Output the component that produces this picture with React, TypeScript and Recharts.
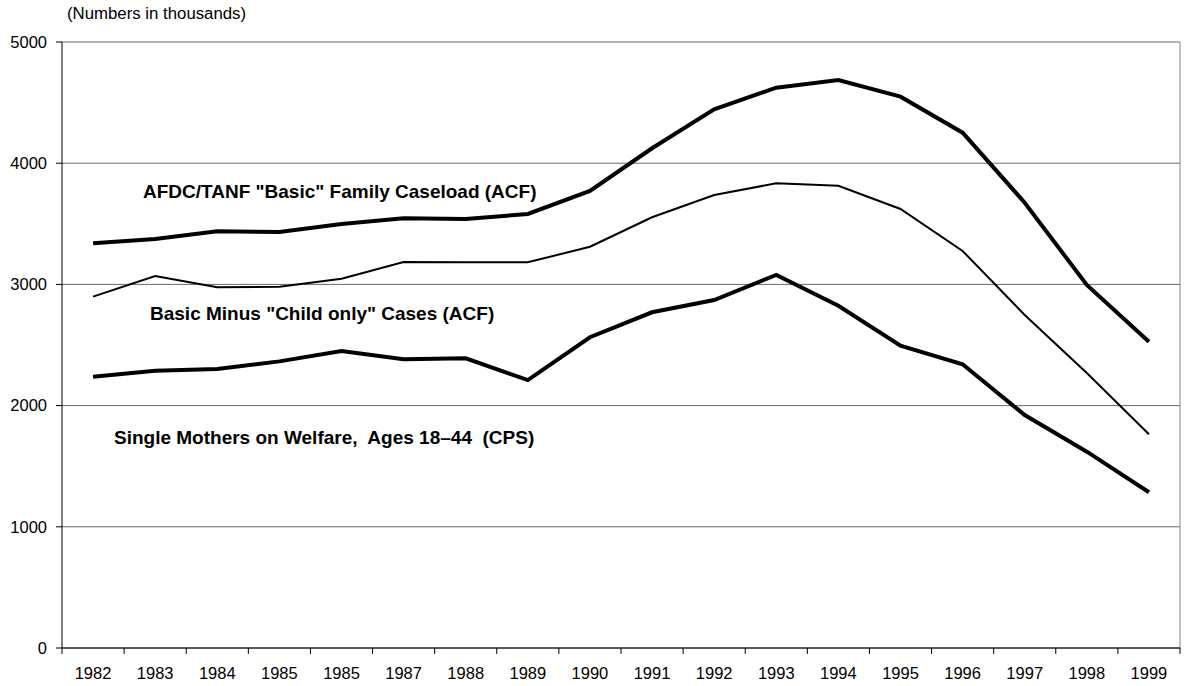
import { LineChart, Line, XAxis, YAxis, CartesianGrid, ReferenceLine } from "recharts";

// x categories (the source repeats "1985")
const years = [
  "1982", "1983", "1984", "1985", "1985", "1987", "1988", "1989", "1990",
  "1991", "1992", "1993", "1994", "1995", "1996", "1997", "1998", "1999"
];

// numbers in thousands
const afdcBasic = [
  3339, 3375, 3438, 3432, 3498, 3545, 3540, 3581, 3771,
  4123, 4445, 4623, 4686, 4549, 4252, 3674, 2995, 2527
];
const basicMinusChildOnly = [
  2899, 3069, 2976, 2981, 3047, 3185, 3182, 3182, 3311,
  3554, 3738, 3834, 3814, 3622, 3276, 2748, 2269, 1763
];
const singleMothers = [
  2238, 2288, 2302, 2365, 2450, 2382, 2390, 2211, 2564,
  2770, 2871, 3078, 2824, 2494, 2341, 1922, 1620, 1285
];

const yTicks = [0, 1000, 2000, 3000, 4000, 5000];

const data = years.map((year, i) => ({
  idx: i,
  year,
  afdc: afdcBasic[i],
  basicMinus: basicMinusChildOnly[i],
  single: singleMothers[i]
}));

// labels sit on the whole numbers, tick marks on the halves between them
const xTicks = years.flatMap((_, i) => [i - 0.5, i]).concat(years.length - 0.5);

const FONT = "'Liberation Sans', Arial, sans-serif";

const YearTick = ({ x, y, payload }: any) => {
  const v = payload.value;
  if (Number.isInteger(v)) {
    return (
      <text x={x} y={y + 31} textAnchor="middle" fontSize={16.5} fontFamily={FONT} fill="#000">
        {years[v]}
      </text>
    );
  }
  return <line x1={x} x2={x} y1={y} y2={y + 6} stroke="#000" strokeWidth={1} />;
};

const noteStyle: React.CSSProperties = {
  position: "absolute",
  fontFamily: FONT,
  fontWeight: "bold",
  fontSize: 19,
  lineHeight: "19px",
  whiteSpace: "pre",
  color: "#000"
};

export default function App() {
  return (
    <div style={{ position: "relative", width: 1184, height: 686, background: "#fff" }}>
      <style>{`body{margin:0}`}</style>
      <div
        style={{
          position: "absolute",
          left: 67,
          top: 6,
          fontFamily: FONT,
          fontSize: 16.8,
          lineHeight: "16.8px",
          whiteSpace: "pre"
        }}
      >
        (Numbers in thousands)
      </div>

      <LineChart
        width={1184}
        height={686}
        data={data}
        margin={{ top: 42, right: 4, left: 0, bottom: 0 }}
      >
        <CartesianGrid vertical={false} stroke="#6a6a6a" strokeWidth={1} />
        <XAxis
          dataKey="idx"
          type="number"
          domain={[-0.5, years.length - 0.5]}
          ticks={xTicks}
          interval={0}
          tick={<YearTick />}
          tickLine={false}
          tickSize={0}
          tickMargin={0}
          height={38}
          axisLine={{ stroke: "#000", strokeWidth: 1 }}
        />
        <YAxis
          type="number"
          domain={[0, 5000]}
          ticks={yTicks}
          interval={0}
          width={62}
          tickSize={6}
          tickMargin={9}
          tickLine={{ stroke: "#000" }}
          axisLine={{ stroke: "#000", strokeWidth: 1 }}
          tick={{ fontSize: 16.5, fontFamily: FONT, fill: "#000" }}
        />
        <ReferenceLine x={years.length - 0.5} stroke="#808080" strokeWidth={1} />
        <Line
          dataKey="afdc"
          type="linear"
          stroke="#000"
          strokeWidth={4}
          dot={false}
          isAnimationActive={false}
        />
        <Line
          dataKey="basicMinus"
          type="linear"
          stroke="#000"
          strokeWidth={2}
          dot={false}
          isAnimationActive={false}
        />
        <Line
          dataKey="single"
          type="linear"
          stroke="#000"
          strokeWidth={4}
          dot={false}
          isAnimationActive={false}
        />
      </LineChart>

      <div style={{ ...noteStyle, left: 143, top: 182 }}>AFDC/TANF "Basic" Family Caseload (ACF)</div>
      <div style={{ ...noteStyle, left: 150, top: 304 }}>Basic Minus "Child only" Cases (ACF)</div>
      <div style={{ ...noteStyle, left: 114, top: 428 }}>Single Mothers on Welfare,  Ages 18–44  (CPS)</div>
    </div>
  );
}
